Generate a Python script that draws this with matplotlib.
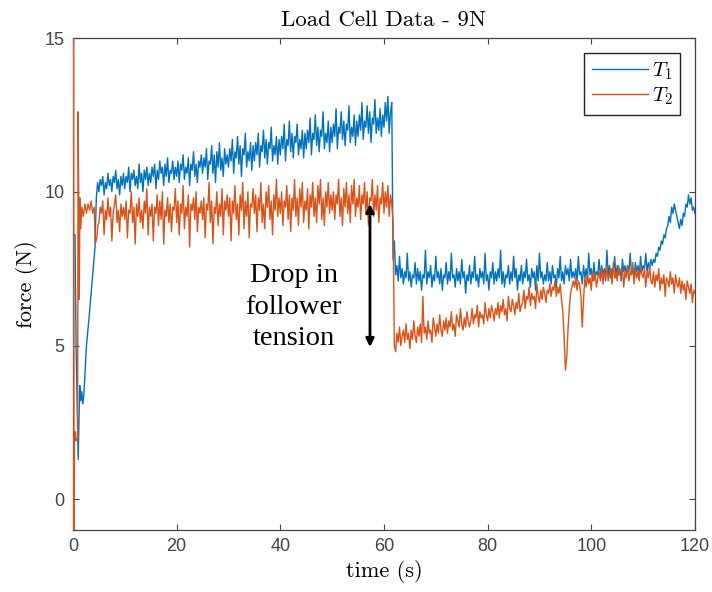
import numpy as np
import matplotlib
matplotlib.use('Agg')
import matplotlib.pyplot as plt

plt.rcParams['mathtext.fontset'] = 'cm'

# ---- data (force in N, time in s) ----
# T1: start-up transient, irregular samples
t1_head_t = [0.0, 0.4, 0.6, 1.0, 1.3, 1.5, 1.7, 1.9, 2.1, 2.6, 3.1, 3.6, 4.25, 4.5, 4.75]
t1_head_v = [8.6, 8.6, 5.0, 1.3, 3.7, 3.2, 3.5, 3.1, 3.4, 5.0, 5.9, 6.9, 8.2, 9.8, 10.3]

# T1: 5.0 s .. 61.5 s, every 0.25 s
t1_high_start = 5.0
t1_high_v = [
    10.0, 10.4, 10.2, 10.5, 9.9, 10.3, 10.1, 10.6, 10.2, 10.4, 10.0, 10.5, 10.3, 10.7, 10.1, 10.4, 9.9, 10.5, 10.2, 10.6,
    10.1, 10.5, 10.3, 10.8, 10.0, 10.6, 10.4, 10.7, 10.2, 10.5, 10.1, 10.9, 10.3, 10.6, 10.0, 10.7, 10.4, 10.8, 10.2, 10.6,
    10.3, 10.8, 10.5, 10.9, 10.1, 10.7, 10.4, 11.0, 10.6, 10.8, 10.2, 10.9, 10.5, 11.1, 10.3, 10.7, 10.6, 11.0, 10.4, 10.8,
    10.5, 11.0, 10.3, 10.9, 10.7, 11.2, 10.4, 10.8, 10.6, 11.1, 10.2, 10.9, 10.7, 11.3, 10.5, 10.9, 10.3, 11.0, 10.8, 11.2,
    10.6, 11.1, 10.8, 11.4, 10.4, 11.0, 10.9, 11.5, 10.6, 11.2, 10.3, 11.3, 10.8, 11.6, 10.7, 11.1, 10.5, 11.4, 10.9, 11.2,
    10.8, 11.4, 11.0, 11.7, 10.6, 11.3, 11.1, 11.8, 10.9, 11.5, 10.5, 11.4, 11.2, 11.9, 10.8, 11.3, 11.0, 11.6, 10.7, 11.5,
    11.0, 11.6, 11.2, 11.9, 10.8, 11.5, 11.3, 12.0, 11.1, 11.7, 10.9, 11.6, 11.4, 12.1, 11.0, 11.5, 11.2, 11.8, 10.9, 11.7,
    11.2, 11.8, 11.4, 12.2, 11.0, 11.7, 11.5, 12.3, 11.3, 11.9, 11.1, 11.8, 11.6, 12.2, 11.2, 11.7, 11.4, 12.0, 11.1, 11.9,
    11.4, 12.0, 11.6, 12.4, 11.2, 11.9, 11.7, 12.5, 11.5, 12.1, 11.3, 12.0, 11.8, 12.6, 11.4, 11.9, 11.6, 12.3, 11.3, 12.1,
    11.6, 12.2, 11.8, 12.7, 11.4, 12.1, 11.9, 12.6, 11.7, 12.3, 11.5, 12.2, 12.0, 12.8, 11.6, 12.1, 11.8, 12.5, 11.5, 12.3,
    11.8, 12.5, 12.0, 12.9, 11.7, 12.3, 12.1, 12.8, 11.9, 12.6, 11.6, 12.4, 12.2, 13.0, 11.9, 12.4, 12.0, 12.7, 11.8, 12.5,
    12.1, 12.9, 12.3, 13.1, 11.9, 12.6, 12.9,
]

# T1: after the drop, 61.75 s .. 120 s, every 0.25 s
t1_low_start = 61.75
t1_low_v = [
    7.8, 8.4, 7.3, 7.6, 7.1, 7.9, 7.2, 7.5, 7.0, 7.4, 7.2, 8.0, 7.1, 7.4, 6.9, 7.3, 7.2, 7.7, 7.0, 7.5,
    7.1, 7.4, 6.8, 7.3, 7.2, 8.1, 7.0, 7.4, 7.2, 7.6, 6.9, 7.3, 7.1, 7.9, 7.2, 7.4, 7.0, 7.5, 6.8, 7.3,
    7.2, 7.7, 7.0, 7.4, 7.1, 8.0, 7.2, 7.3, 6.9, 7.5, 7.1, 7.4, 7.0, 7.8, 7.2, 7.4, 6.7, 7.3, 7.1, 7.6,
    7.0, 7.4, 7.2, 7.9, 7.1, 7.3, 6.9, 7.5, 7.2, 7.4, 7.0, 8.0, 7.1, 7.3, 6.8, 7.4, 7.2, 7.7, 7.0, 7.4,
    7.1, 7.5, 7.2, 8.1, 7.0, 7.4, 6.9, 7.3, 7.2, 7.6, 7.0, 7.4, 7.1, 7.9, 7.2, 7.5, 6.8, 7.3, 7.1, 7.6,
    7.0, 7.4, 7.2, 7.8, 7.1, 7.3, 6.9, 7.5, 7.2, 7.4, 6.8, 7.6, 7.1, 8.0, 7.2, 7.4, 7.0, 7.3, 7.1, 7.7,
    7.1, 7.4, 7.0, 7.6, 7.2, 7.3, 6.9, 7.5, 7.2, 7.9, 7.1, 7.4, 7.0, 7.6, 7.3, 7.5, 7.1, 7.8, 7.2, 7.4,
    7.2, 7.5, 7.1, 7.9, 7.3, 7.4, 7.0, 7.6, 7.2, 7.5, 7.1, 8.0, 7.3, 7.5, 7.1, 7.7, 7.2, 7.4, 7.3, 7.8,
    7.2, 7.6, 7.3, 7.5, 7.1, 8.1, 7.3, 7.6, 7.2, 7.5, 7.4, 7.9, 7.2, 7.6, 7.3, 7.5, 7.1, 7.8, 7.4, 7.6,
    7.3, 7.6, 7.4, 8.0, 7.3, 7.5, 7.2, 7.7, 7.4, 7.6, 7.3, 7.9, 7.4, 7.6, 7.5, 8.0, 7.4, 7.7, 7.5, 7.8,
    7.6, 7.8, 7.7, 8.0, 7.9, 8.2, 8.1, 8.4, 8.3, 8.6, 8.5, 8.8, 8.9, 9.2, 9.0, 9.5, 9.3, 9.6, 9.4, 9.2,
    9.0, 8.8, 9.1, 8.9, 9.3, 9.2, 9.6, 9.5, 9.9, 9.6, 9.8, 9.4, 9.5, 9.3,
]

# T2: start-up transient, irregular samples
t2_head_t = [0.12, 0.2, 0.3, 0.45, 0.6, 0.9, 1.0, 1.1, 1.2, 1.35, 1.5, 1.7, 2.0, 2.3, 2.6, 2.9, 3.2, 3.5, 3.8, 4.1, 4.3, 4.6, 4.8]
t2_head_v = [16.0, -1.5, 1.9, 2.2, 1.9, 2.0, 12.6, 9.9, 6.5, 9.8, 8.8, 9.5, 9.2, 9.6, 9.3, 9.6, 9.4, 9.7, 9.3, 9.5, 8.3, 8.5, 8.9]

# T2: 5.0 s .. 61.5 s, every 0.25 s
t2_high_start = 5.0
t2_high_v = [
    9.0, 9.5, 9.3, 9.7, 8.6, 9.4, 9.1, 9.8, 9.2, 9.5, 8.4, 9.3, 9.6, 9.9, 9.0, 9.4, 8.7, 9.6, 9.2, 9.5,
    9.1, 9.7, 8.5, 9.4, 9.3, 10.0, 9.0, 9.5, 8.3, 9.6, 9.2, 9.8, 9.0, 9.4, 8.8, 9.7, 9.3, 10.1, 8.6, 9.5,
    9.2, 9.6, 8.4, 9.5, 9.3, 9.9, 8.9, 9.7, 9.1, 10.0, 8.3, 9.4, 9.2, 9.8, 9.0, 9.6, 8.7, 9.5, 9.4, 10.1,
    9.0, 9.7, 8.6, 9.6, 9.3, 10.2, 8.8, 9.5, 9.2, 9.9, 8.2, 9.6, 9.4, 9.8, 9.1, 10.0, 8.7, 9.5, 9.3, 9.7,
    9.1, 9.8, 8.5, 9.6, 9.4, 10.3, 9.0, 9.7, 8.3, 9.5, 9.3, 10.0, 8.9, 9.6, 9.2, 10.1, 8.6, 9.7, 9.4, 9.9,
    9.2, 9.8, 8.4, 9.7, 9.3, 10.2, 9.1, 9.6, 8.6, 9.9, 9.4, 10.3, 8.8, 9.7, 9.2, 10.0, 8.5, 9.6, 9.5, 10.1,
    9.3, 9.9, 8.7, 9.8, 9.4, 10.3, 9.0, 9.6, 8.8, 10.0, 9.5, 10.2, 9.1, 9.7, 8.6, 9.9, 9.4, 10.4, 9.2, 9.8,
    9.3, 10.0, 8.9, 9.7, 9.5, 10.2, 9.1, 9.9, 8.7, 9.8, 9.4, 10.4, 9.2, 9.8, 8.9, 10.1, 9.5, 10.3, 9.0, 9.7,
    9.4, 10.1, 8.8, 9.9, 9.5, 10.3, 9.2, 9.8, 9.0, 10.2, 9.6, 10.4, 9.1, 9.8, 8.9, 10.0, 9.5, 10.3, 9.3, 9.9,
    9.4, 10.0, 9.1, 9.9, 9.6, 10.4, 9.2, 9.8, 8.9, 10.1, 9.5, 10.3, 9.3, 9.9, 9.0, 10.2, 9.6, 10.4, 9.2, 9.8,
    9.5, 10.2, 9.1, 9.9, 9.6, 10.3, 9.3, 10.0, 8.9, 9.8, 9.7, 10.4, 9.2, 9.9, 9.4, 10.2, 9.0, 9.8, 9.6, 10.3,
    9.3, 10.0, 9.5, 10.2, 9.2, 9.9, 9.6,
]

# T2: after the drop, 61.75 s .. 120 s, every 0.25 s
t2_low_start = 61.75
t2_low_v = [
    9.0, 5.0, 4.8, 5.4, 5.1, 5.6, 5.0, 5.3, 5.5, 5.1, 5.7, 5.2, 5.4, 4.9, 5.5, 5.2, 5.8, 5.3, 5.1, 5.6,
    5.3, 5.7, 5.1, 6.6, 5.4, 5.6, 5.2, 5.8, 5.4, 5.5, 5.1, 5.9, 5.6, 5.3, 5.7, 5.4, 6.0, 5.5, 5.3, 5.8,
    5.5, 5.9, 5.4, 5.8, 5.6, 6.1, 5.5, 5.7, 5.3, 6.0, 5.8, 5.6, 6.2, 5.7, 5.5, 5.9, 5.6, 6.1, 5.8, 5.6,
    5.8, 6.2, 5.7, 6.0, 5.9, 6.3, 5.6, 6.1, 5.9, 6.0, 5.7, 6.4, 6.0, 5.8, 6.2, 5.9, 6.3, 6.1, 5.8, 6.2,
    6.0, 6.4, 5.9, 6.3, 6.1, 6.5, 6.0, 6.2, 5.8, 6.6, 6.2, 6.1, 6.5, 6.3, 6.0, 6.4, 6.2, 6.7, 6.1, 6.3,
    6.4, 6.8, 6.2, 6.6, 6.5, 6.9, 6.3, 6.7, 6.5, 6.6, 6.2, 7.0, 6.6, 6.4, 6.8, 6.5, 6.9, 6.7, 6.4, 6.8,
    6.7, 7.0, 6.6, 6.9, 6.8, 7.1, 6.6, 6.9, 6.7, 7.0, 6.5, 6.1, 5.3, 4.2, 4.6, 5.5, 6.2, 6.7, 6.9, 7.1,
    6.9, 7.2, 6.8, 7.1, 7.0, 6.6, 5.6, 6.5, 7.2, 6.9, 7.3, 7.0, 7.2, 6.8, 7.4, 7.1, 7.3, 6.9, 7.2, 7.4,
    7.1, 7.5, 7.0, 7.4, 7.2, 7.6, 7.1, 7.3, 7.5, 7.0, 7.7, 7.2, 7.4, 7.1, 7.6, 7.3, 7.2, 7.5, 6.9, 7.4,
    7.2, 7.6, 7.1, 7.4, 7.3, 7.7, 7.0, 7.5, 7.2, 7.4, 7.1, 7.6, 7.3, 7.2, 7.5, 6.9, 7.4, 7.2, 7.6, 7.1,
    7.0, 7.4, 6.9, 7.3, 7.1, 7.5, 6.8, 7.2, 7.0, 7.3, 6.6, 7.2, 7.1, 6.9, 7.4, 7.0, 7.2, 6.7, 7.3, 7.0,
    6.9, 7.2, 6.7, 7.1, 6.8, 7.0, 6.5, 7.1, 6.9, 6.7, 7.0, 6.4, 6.8, 6.7,
]

xticks = [0, 20, 40, 60, 80, 100, 120]
yticks = [0, 5, 10, 15]
note = 'Drop in\nfollower\ntension'

# ---- assemble the series ----
step = 0.25
t1 = np.concatenate([t1_head_t,
                     t1_high_start + step * np.arange(len(t1_high_v)),
                     t1_low_start + step * np.arange(len(t1_low_v))])
T1 = np.concatenate([t1_head_v, t1_high_v, t1_low_v])
t2 = np.concatenate([t2_head_t,
                     t2_high_start + step * np.arange(len(t2_high_v)),
                     t2_low_start + step * np.arange(len(t2_low_v))])
T2 = np.concatenate([t2_head_v, t2_high_v, t2_low_v])

gray = '#444444'
fig = plt.figure(figsize=(7.12, 5.92), dpi=100)
ax = fig.add_axes([0.1025, 0.1047, 0.8736, 0.8311])

ax.plot(t1, T1, color='#0072BD', lw=1.0, label=r'$T_1$', zorder=3)
ax.plot(t2, T2, color='#D95319', lw=1.0, label=r'$T_2$', zorder=3)

ax.set_xlim(0, 120)
ax.set_ylim(-1, 15)
ax.set_xticks(xticks)
ax.set_yticks(yticks)
ax.tick_params(direction='in', top=True, right=True, length=4, width=0.8,
               colors=gray, labelsize=13, pad=6)
for lab in ax.get_xticklabels() + ax.get_yticklabels():
    lab.set_fontfamily('Liberation Sans')
for s in ax.spines.values():
    s.set_color(gray)
    s.set_linewidth(0.9)

ax.set_title('Load Cell Data - 9N', family='cmr10', fontsize=16.5, pad=9)
ax.set_xlabel('time (s)', family='cmr10', fontsize=16, labelpad=3)
ax.set_ylabel('force (N)', family='cmr10', fontsize=16, labelpad=5)

ax.annotate('', xy=(57.3, 9.6), xytext=(57.3, 4.95), zorder=4,
            arrowprops=dict(arrowstyle='<|-|>', color='k', lw=2, mutation_scale=12,
                            shrinkA=0, shrinkB=0))
ax.text(42.6, 6.25, note, family='Liberation Serif', fontsize=20.5,
        ha='center', va='center', linespacing=1.35, zorder=4)

leg = ax.legend(loc='upper right', bbox_to_anchor=(0.976, 0.97), fontsize=15,
                handlelength=2.7, handletextpad=0.2, borderpad=0.35,
                labelspacing=0.2, fancybox=False, framealpha=1, borderaxespad=0)
leg.get_frame().set_edgecolor('#222222')
leg.get_frame().set_linewidth(1.0)

fig.savefig('out.png', dpi=100)
